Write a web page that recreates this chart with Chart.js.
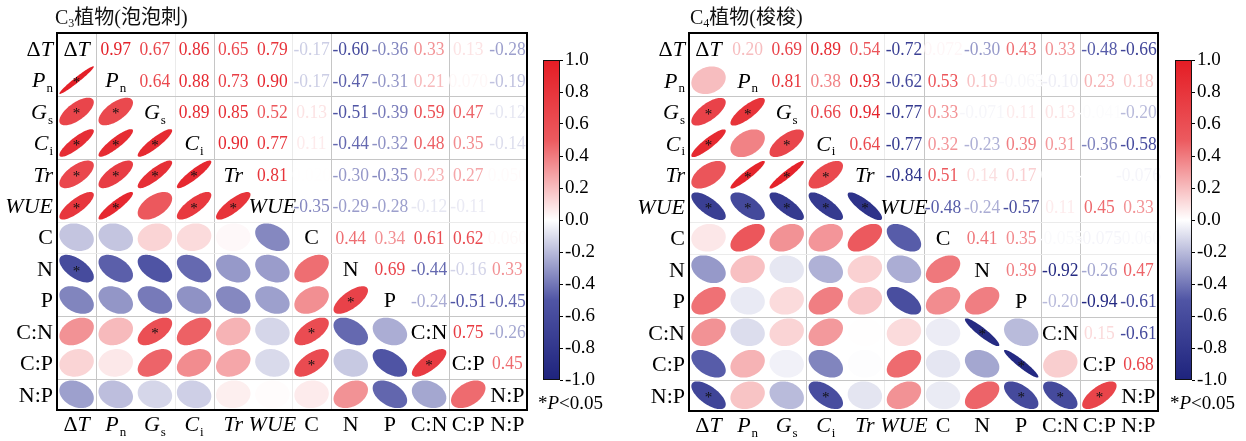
<!DOCTYPE html>
<html>
<head>
<meta charset="UTF-8">
<title>C3 / C4 植物相关性矩阵</title>
<script src="https://cdn.jsdelivr.net/npm/chart.js@4.4.0/dist/chart.umd.min.js"></script>
<style>
    body { margin: 0; background: #fff; width: 1246px; height: 441px; overflow: hidden; position: relative; }
    .box { position: absolute; top: 0; height: 441px; }
    .title {
        position: absolute; top: 4px; z-index: 2; line-height: 26px;
        font-size: 20px; color: #111;
        font-family: "Liberation Serif", "Noto Sans CJK SC", serif;
    }
    .title sub { font-size: 12px; vertical-align: -3px; line-height: 0; }
</style>
</head>
<body>
    <div class="box" style="left:0;width:535px"><canvas id="c3"></canvas></div>
    <div class="box" style="left:535px;width:100px"><canvas id="cb3"></canvas></div>
    <div class="box" style="left:635px;width:535px"><canvas id="c4"></canvas></div>
    <div class="box" style="left:1165px;width:81px"><canvas id="cb4"></canvas></div>
    <div class="title" style="left:55px">C<sub>3</sub>植物(泡泡刺)</div>
    <div class="title" style="left:690px">C<sub>4</sub>植物(梭梭)</div>
<script>
    // variables (rows / columns of both matrices)
    const vars = ['ΔT', 'Pn', 'Gs', 'Ci', 'Tr', 'WUE', 'C', 'N', 'P', 'C:N', 'C:P', 'N:P'];

    // upper triangle, row i holds r(i, j) for j > i
    const c3Upper = [
        [0.97, 0.67, 0.86, 0.65, 0.79, -0.17, -0.60, -0.36, 0.33, 0.13, -0.28],
        [0.64, 0.88, 0.73, 0.90, -0.17, -0.47, -0.31, 0.21, 0.07, -0.19],
        [0.89, 0.85, 0.52, 0.13, -0.51, -0.39, 0.59, 0.47, -0.12],
        [0.90, 0.77, 0.11, -0.44, -0.32, 0.48, 0.35, -0.14],
        [0.81, 0.02, -0.30, -0.35, 0.23, 0.27, 0.05],
        [-0.35, -0.29, -0.28, -0.12, -0.11, 0.01],
        [0.44, 0.34, 0.61, 0.62, 0.06],
        [0.69, -0.44, -0.16, 0.33],
        [-0.24, -0.51, -0.45],
        [0.75, -0.26],
        [0.45]
    ];
    const c4Upper = [
        [0.20, 0.69, 0.89, 0.54, -0.72, 0.072, -0.30, 0.43, 0.33, -0.48, -0.66],
        [0.81, 0.38, 0.93, -0.62, 0.53, 0.19, -0.063, -0.10, 0.23, 0.18],
        [0.66, 0.94, -0.77, 0.33, -0.071, 0.11, 0.13, -0.041, -0.20],
        [0.64, -0.77, 0.32, -0.23, 0.39, 0.31, -0.36, -0.58],
        [-0.84, 0.51, 0.14, 0.17, 0.004, -0.006, -0.076],
        [-0.48, -0.24, -0.57, 0.11, 0.45, 0.33],
        [0.41, 0.35, -0.055, -0.075, -0.060],
        [0.39, -0.92, -0.26, 0.47],
        [-0.20, -0.94, -0.61],
        [0.15, -0.61],
        [0.68]
    ];

    // significant pairs (P<0.05), as [row, col] of the lower triangle
    const c3Sig = [[1,0],[2,0],[2,1],[3,0],[3,1],[3,2],[4,0],[4,1],[4,2],[4,3],
                   [5,0],[5,1],[5,3],[5,4],[7,0],[8,7],[9,2],[9,6],[10,6],[10,9]];
    const c4Sig = [[2,0],[2,1],[3,0],[3,2],[4,1],[4,2],[4,3],[5,0],[5,1],[5,2],[5,3],[5,4],
                   [9,7],[10,8],[11,0],[11,3],[11,8],[11,9],[11,10]];

    // colour bar ticks
    const cbTicks = [-1.0, -0.8, -0.6, -0.4, -0.2, 0.0, 0.2, 0.4, 0.6, 0.8, 1.0];

    // blue - white - red colour map
    const cmapStops = [[-1, [30, 35, 125]], [-0.5, [80, 85, 165]], [0, [255, 255, 255]],
                       [0.5, [236, 90, 95]], [1, [228, 28, 36]]];
    function corrColor(v) {
        const x = Math.max(-1, Math.min(1, v));
        for (let k = 0; k < cmapStops.length - 1; k++) {
            const [a, ca] = cmapStops[k], [b, cb] = cmapStops[k + 1];
            if (x >= a && x <= b) {
                const t = (x - a) / (b - a);
                return 'rgb(' + ca.map((c, i) => Math.round(c + (cb[i] - c) * t)).join(',') + ')';
            }
        }
    }
    // numbers fade out faster than the ellipses near zero
    const textColor = v => corrColor(v * Math.min(1, Math.abs(v) / 0.2));

    const SERIF = '"Liberation Serif", "Times New Roman", serif';
    const fmt = v => Math.abs(v) < 0.1 ? v.toFixed(3) : v.toFixed(2);

    // label pieces: italic / subscript
    function pieces(name) {
        switch (name) {
            case 'ΔT': return [{ t: 'Δ' }, { t: 'T', i: true }];
            case 'Pn': return [{ t: 'P', i: true }, { t: 'n', s: true }];
            case 'Gs': return [{ t: 'G', i: true }, { t: 's', s: true }];
            case 'Ci': return [{ t: 'C', i: true }, { t: 'i', s: true }];
            case 'Tr': return [{ t: 'Tr', i: true }];
            case 'WUE': return [{ t: 'WUE', i: true }];
            default: return [{ t: name }];
        }
    }
    function drawLabel(ctx, name, x, y, size, align) {
        const parts = pieces(name);
        const fontOf = p => (p.i ? 'italic ' : '') + (p.s ? Math.round(size * 0.6) : size) + 'px ' + SERIF;
        let w = 0;
        parts.forEach(p => { ctx.font = fontOf(p); p.w = ctx.measureText(p.t).width + (p.s ? 1 : 0); w += p.w; });
        let px = align === 'right' ? x - w : x - w / 2;
        const base = y + size * 0.33;
        ctx.textAlign = 'left';
        ctx.textBaseline = 'alphabetic';
        parts.forEach(p => {
            ctx.font = fontOf(p);
            ctx.fillText(p.t, px + (p.s ? 1 : 0), p.s ? base + size * 0.22 : base);
            px += p.w;
        });
    }

    function buildPoints(upper, sig) {
        const lower = [], up = [], diag = [];
        const isSig = (r, c) => sig.some(p => p[0] === r && p[1] === c);
        for (let i = 0; i < vars.length; i++) {
            diag.push({ x: i, y: i, name: vars[i] });
            for (let j = i + 1; j < vars.length; j++) {
                const v = upper[i][j - i - 1];
                up.push({ x: j, y: i, v: v });
                lower.push({ x: i, y: j, v: v, sig: isSig(j, i) });
            }
        }
        return { lower, up, diag };
    }

    const corrPlugin = {
        id: 'corr',
        beforeDatasetsDraw(chart, args, o) {
            const { ctx, chartArea: a, scales: { x, y } } = chart;
            ctx.save();
            ctx.lineWidth = 1;
            o.vLines.forEach(([k, kind]) => {
                const px = Math.round(x.getPixelForValue(k - 0.5)) + 0.5;
                ctx.strokeStyle = kind === 's' ? '#c6c6c6' : '#ebebeb';
                ctx.beginPath(); ctx.moveTo(px, a.top); ctx.lineTo(px, a.bottom); ctx.stroke();
            });
            o.hLines.forEach(([k, kind]) => {
                const py = Math.round(y.getPixelForValue(k - 0.5)) + 0.5;
                ctx.strokeStyle = kind === 's' ? '#c6c6c6' : '#ebebeb';
                ctx.beginPath(); ctx.moveTo(a.left, py); ctx.lineTo(a.right, py); ctx.stroke();
            });
            ctx.restore();
        },
        afterDatasetsDraw(chart) {
            const { ctx, chartArea: a, scales: { x, y } } = chart;
            const cw = Math.abs(x.getPixelForValue(1) - x.getPixelForValue(0));
            const ch = Math.abs(y.getPixelForValue(1) - y.getPixelForValue(0));
            ctx.save();

            // ellipses in the lower triangle
            const dsL = chart.data.datasets[0].data;
            chart.getDatasetMeta(0).data.forEach((el, k) => {
                const d = dsL[k];
                const ang = Math.acos(Math.max(-1, Math.min(1, d.v)));
                ctx.beginPath();
                for (let s = 0; s <= 90; s++) {
                    const t = s / 90 * 2 * Math.PI;
                    const px = el.x + Math.cos(t + ang / 2) * cw * 0.44;
                    const py = el.y - Math.cos(t - ang / 2) * ch * 0.44;
                    if (s) ctx.lineTo(px, py); else ctx.moveTo(px, py);
                }
                ctx.closePath();
                ctx.fillStyle = corrColor(d.v);
                ctx.fill();
                if (d.sig) {
                    ctx.fillStyle = '#111';
                    ctx.font = '15px ' + SERIF;
                    ctx.textAlign = 'center';
                    ctx.textBaseline = 'middle';
                    ctx.fillText('*', el.x, el.y + 3);
                }
            });

            // coefficients in the upper triangle
            const dsU = chart.data.datasets[1].data;
            ctx.font = '19px ' + SERIF;
            ctx.textAlign = 'center';
            ctx.textBaseline = 'alphabetic';
            chart.getDatasetMeta(1).data.forEach((el, k) => {
                const d = dsU[k];
                ctx.save();
                ctx.translate(el.x, el.y + 6.5);
                ctx.scale(0.92, 1);
                ctx.fillStyle = textColor(d.v);
                ctx.fillText(fmt(d.v), 0, 0);
                ctx.restore();
            });

            // names on the diagonal
            ctx.fillStyle = '#000';
            const dsD = chart.data.datasets[2].data;
            chart.getDatasetMeta(2).data.forEach((el, k) => {
                drawLabel(ctx, dsD[k].name, el.x, el.y, 22, 'center');
            });

            // axis labels: bottom and left
            vars.forEach((name, i) => {
                drawLabel(ctx, name, x.getPixelForValue(i), a.bottom + 14, 22, 'center');
                drawLabel(ctx, name, a.left - 4, y.getPixelForValue(i), 22, 'right');
            });

            // frame
            ctx.strokeStyle = '#000';
            ctx.lineWidth = 2;
            ctx.strokeRect(a.left, a.top, a.right - a.left, a.bottom - a.top);
            ctx.restore();
        }
    };

    function matrixChart(id, upper, sig, pad, vLines, hLines) {
        const p = buildPoints(upper, sig);
        return new Chart(document.getElementById(id), {
            type: 'scatter',
            data: {
                datasets: [
                    { label: 'lower', data: p.lower, pointRadius: 0, pointHoverRadius: 0 },
                    { label: 'upper', data: p.up, pointRadius: 0, pointHoverRadius: 0 },
                    { label: 'diag', data: p.diag, pointRadius: 0, pointHoverRadius: 0 }
                ]
            },
            options: {
                animation: false,
                responsive: true,
                maintainAspectRatio: false,
                events: [],
                layout: { padding: pad },
                plugins: {
                    legend: { display: false },
                    tooltip: { enabled: false },
                    corr: { vLines: vLines, hLines: hLines }
                },
                scales: {
                    x: { type: 'linear', min: -0.5, max: 11.5, display: false },
                    y: { type: 'linear', min: -0.5, max: 11.5, reverse: true, display: false }
                }
            },
            plugins: [corrPlugin]
        });
    }

    // "*P<0.05" note under the colour bar
    const sigNote = {
        id: 'sigNote',
        afterDraw(chart) {
            const { ctx, chartArea: a } = chart;
            ctx.save();
            ctx.fillStyle = '#000';
            ctx.textBaseline = 'alphabetic';
            ctx.textAlign = 'left';
            let px = a.left - 5;
            const base = a.bottom + 29;
            [['*', ''], ['P', 'italic '], ['<0.05', '']].forEach(([t, st]) => {
                ctx.font = st + '19px ' + SERIF;
                ctx.fillText(t, px, base);
                px += ctx.measureText(t).width;
            });
            ctx.restore();
        }
    };

    function colorbar(id, pad) {
        return new Chart(document.getElementById(id), {
            type: 'bar',
            data: {
                labels: [''],
                datasets: [{
                    data: [[-1, 1]],
                    backgroundColor: c => {
                        const area = c.chart.chartArea;
                        if (!area) return null;
                        const g = c.chart.ctx.createLinearGradient(0, area.bottom, 0, area.top);
                        cmapStops.forEach(([v]) => g.addColorStop((v + 1) / 2, corrColor(v)));
                        return g;
                    },
                    borderColor: '#111',
                    borderWidth: 1.3,
                    borderSkipped: false,
                    barPercentage: 1,
                    categoryPercentage: 1
                }]
            },
            options: {
                animation: false,
                responsive: true,
                maintainAspectRatio: false,
                events: [],
                layout: { padding: pad },
                plugins: { legend: { display: false }, tooltip: { enabled: false } },
                scales: {
                    x: { display: false },
                    y: {
                        position: 'right',
                        min: -1, max: 1,
                        afterBuildTicks: s => { s.ticks = cbTicks.map(v => ({ value: v })); },
                        afterFit: s => { s.width = 45; },
                        border: { display: false },
                        grid: { drawOnChartArea: false, drawTicks: true, tickLength: 3, color: '#000' },
                        ticks: {
                            padding: 2,
                            color: '#000',
                            font: { family: SERIF, size: 19 },
                            callback: v => (Math.round(v * 10) / 10).toFixed(1)
                        }
                    }
                }
            },
            plugins: [sigNote]
        });
    }

    const hLines = [[2, 's'], [4, 's'], [6, 'f'], [7, 'f'], [9, 's'], [11, 's']];
    matrixChart('c3', c3Upper, c3Sig, { left: 57, right: 8, top: 33, bottom: 31 },
        [[1, 's'], [3, 'f'], [4, 's'], [6, 'f'], [7, 's'], [10, 's']], hLines);
    matrixChart('c4', c4Upper, c4Sig, { left: 54, right: 12, top: 33, bottom: 30 },
        [[3, 's'], [5, 'f'], [6, 's'], [9, 's'], [10, 's']], hLines);
    colorbar('cb3', { left: 8, right: 30, top: 60, bottom: 61 });
    colorbar('cb4', { left: 10, right: 9, top: 60, bottom: 61 });
</script>
</body>
</html>
